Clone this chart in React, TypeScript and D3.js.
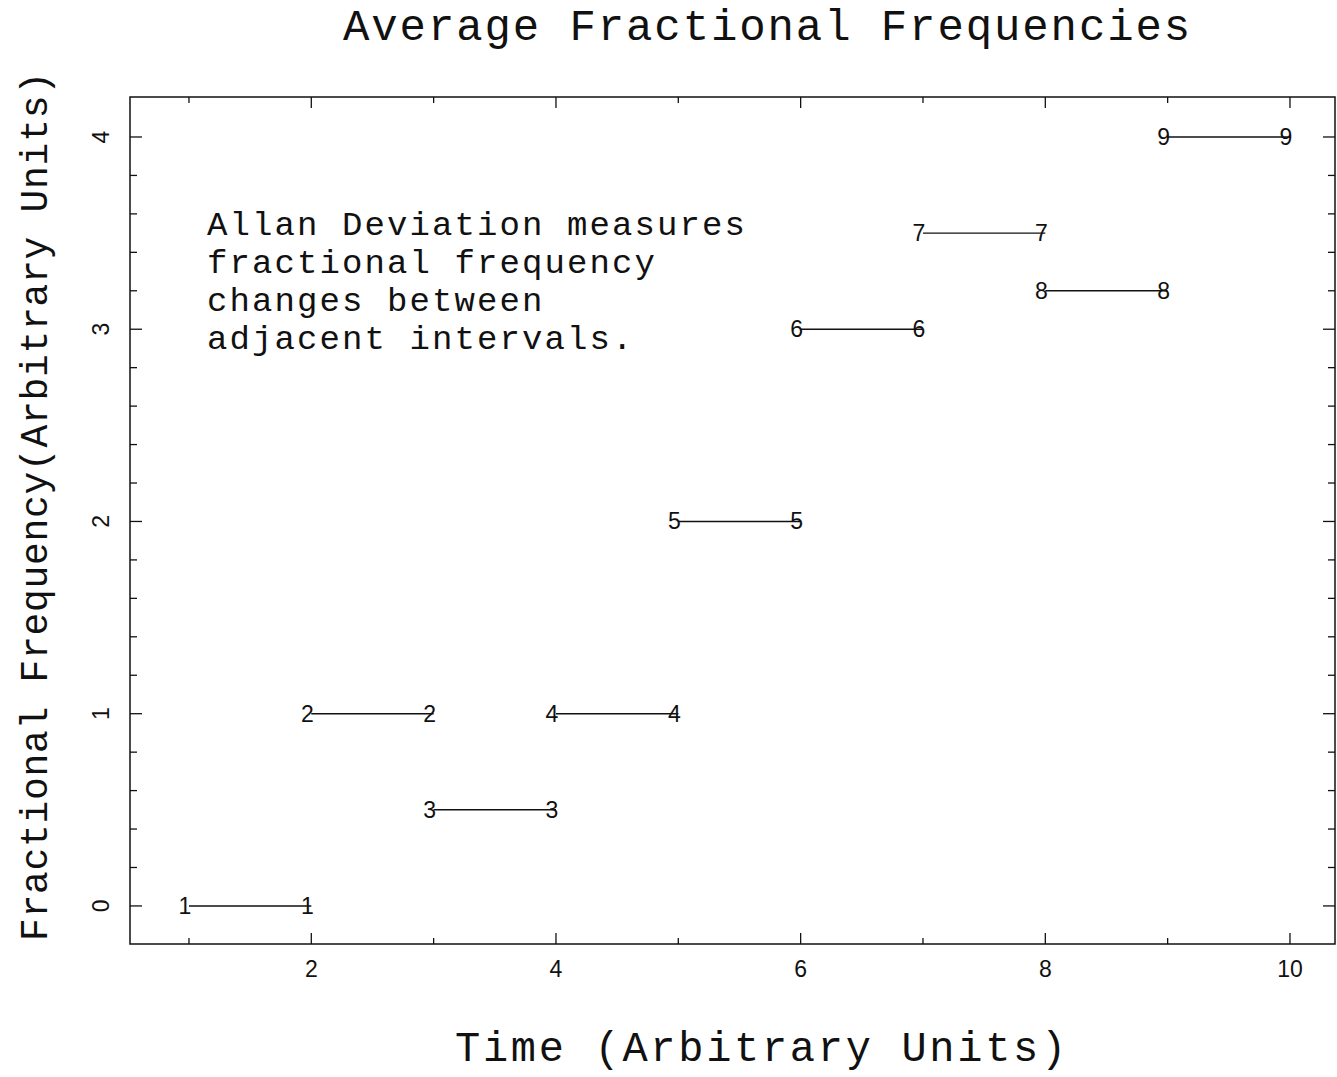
import * as d3 from "d3";
import React, { useEffect, useRef } from "react";

// interval number, start/end time and average fractional frequency
const intervalIds = [1, 2, 3, 4, 5, 6, 7, 8, 9];
const intervalStart = [1, 2, 3, 4, 5, 6, 7, 8, 9];
const intervalEnd = [2, 3, 4, 5, 6, 7, 8, 9, 10];
const fracFreq = [0, 1, 0.5, 1, 2, 3, 3.5, 3.2, 4];

const xTickLabels = [2, 4, 6, 8, 10];
const yTickLabels = [0, 1, 2, 3, 4];

const noteLines = [
  "Allan Deviation measures",
  "fractional frequency",
  "changes between",
  "adjacent intervals.",
];

const W = 1337;
const H = 1077;
const monoFont = "'Courier New', Courier, 'Liberation Mono', monospace";
const sansFont = "'Liberation Sans', Helvetica, Arial, sans-serif";
const ink = "#111";

const App = () => {
  const container = useRef(null);

  useEffect(() => {
    const svg = d3.select(container.current);
    svg.selectAll("*").remove();

    const plot = { left: 130, right: 1335, top: 97, bottom: 944 };

    const x = d3.scaleLinear().domain([0.518, 10.368]).range([plot.left, plot.right]);
    const y = d3.scaleLinear().domain([-0.198, 4.208]).range([plot.bottom, plot.top]);

    // frame
    svg
      .append("rect")
      .attr("x", plot.left)
      .attr("y", plot.top)
      .attr("width", plot.right - plot.left)
      .attr("height", plot.bottom - plot.top)
      .attr("fill", "none")
      .attr("stroke", ink)
      .attr("stroke-width", 1.5);

    // x ticks (bottom + top, inward), majors at even values
    const xTickVals = d3.range(1, 11);
    xTickVals.forEach((v) => {
      const len = xTickLabels.includes(v) ? 11 : 6;
      svg.append("line")
        .attr("x1", x(v)).attr("x2", x(v))
        .attr("y1", plot.bottom).attr("y2", plot.bottom - len)
        .attr("stroke", ink).attr("stroke-width", 1.3);
      svg.append("line")
        .attr("x1", x(v)).attr("x2", x(v))
        .attr("y1", plot.top).attr("y2", plot.top + len)
        .attr("stroke", ink).attr("stroke-width", 1.3);
    });

    // y ticks (left + right, inward), minor every 0.2
    const yTickVals = d3.range(0, 21).map((i) => i * 0.2);
    yTickVals.forEach((v) => {
      const major = Math.abs(v - Math.round(v)) < 1e-6;
      const len = major ? 12 : 7;
      svg.append("line")
        .attr("x1", plot.left).attr("x2", plot.left + len)
        .attr("y1", y(v)).attr("y2", y(v))
        .attr("stroke", ink).attr("stroke-width", 1.3);
      svg.append("line")
        .attr("x1", plot.right).attr("x2", plot.right - len)
        .attr("y1", y(v)).attr("y2", y(v))
        .attr("stroke", ink).attr("stroke-width", 1.3);
    });

    // x tick labels
    svg.selectAll(".xlab")
      .data(xTickLabels)
      .enter()
      .append("text")
      .attr("class", "xlab")
      .attr("x", (d) => x(d))
      .attr("y", 977)
      .attr("text-anchor", "middle")
      .attr("font-family", sansFont)
      .attr("font-size", 23)
      .attr("fill", ink)
      .text((d) => d);

    // y tick labels, rotated
    svg.selectAll(".ylab")
      .data(yTickLabels)
      .enter()
      .append("text")
      .attr("class", "ylab")
      .attr("transform", (d) => `translate(109, ${y(d)}) rotate(-90)`)
      .attr("text-anchor", "middle")
      .attr("font-family", sansFont)
      .attr("font-size", 23)
      .attr("fill", ink)
      .text((d) => d);

    // interval segments
    const segs = intervalIds.map((id, i) => ({
      id,
      x0: intervalStart[i],
      x1: intervalEnd[i],
      v: fracFreq[i],
    }));

    svg.selectAll(".seg")
      .data(segs)
      .enter()
      .append("line")
      .attr("class", "seg")
      .attr("x1", (d) => x(d.x0))
      .attr("x2", (d) => x(d.x1))
      .attr("y1", (d) => y(d.v))
      .attr("y2", (d) => y(d.v))
      .attr("stroke", ink)
      .attr("stroke-width", 1.4);

    // numbers at both ends of each interval
    const ends = segs.flatMap((d) => [
      { id: d.id, t: d.x0, v: d.v },
      { id: d.id, t: d.x1, v: d.v },
    ]);
    svg.selectAll(".endlab")
      .data(ends)
      .enter()
      .append("text")
      .attr("class", "endlab")
      .attr("x", (d) => x(d.t) - 4)
      .attr("y", (d) => y(d.v) + 8)
      .attr("text-anchor", "middle")
      .attr("font-family", sansFont)
      .attr("font-size", 23)
      .attr("fill", ink)
      .text((d) => d.id);

    // note text
    svg.append("g")
      .selectAll("text")
      .data(noteLines)
      .enter()
      .append("text")
      .attr("x", 207)
      .attr("y", (d, i) => 235 + i * 38)
      .attr("font-family", monoFont)
      .attr("font-size", 34)
      .attr("letter-spacing", 2.1)
      .attr("fill", ink)
      .attr("xml:space", "preserve")
      .style("white-space", "pre")
      .text((d) => d);

    // title
    svg.append("text")
      .attr("x", 343)
      .attr("y", 40)
      .attr("font-family", monoFont)
      .attr("font-size", 44)
      .attr("letter-spacing", 1.9)
      .attr("fill", ink)
      .style("white-space", "pre")
      .text("Average Fractional Frequencies");

    // x axis title
    svg.append("text")
      .attr("x", 455)
      .attr("y", 1061)
      .attr("font-family", monoFont)
      .attr("font-size", 42)
      .attr("letter-spacing", 2.7)
      .attr("fill", ink)
      .style("white-space", "pre")
      .text("Time (Arbitrary Units)");

    // y axis title
    svg.append("text")
      .attr("transform", "translate(47, 941) rotate(-90)")
      .attr("font-family", monoFont)
      .attr("font-size", 38)
      .attr("letter-spacing", 0.7)
      .attr("fill", ink)
      .style("white-space", "pre")
      .text("Fractional Frequency(Arbitrary Units)");
  }, []);

  return (
    <svg
      ref={container}
      width={W}
      height={H}
      style={{ position: "absolute", left: 0, top: 0, background: "#fff" }}
    />
  );
};

export default App;
